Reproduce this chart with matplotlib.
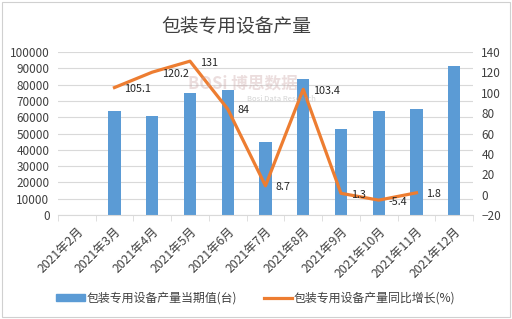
import matplotlib
matplotlib.use("Agg")
import matplotlib.pyplot as plt
import numpy as np
from matplotlib.patches import Rectangle, Patch
from matplotlib.lines import Line2D

plt.rcParams['font.family'] = ['Noto Sans CJK SC', 'DejaVu Sans']

categories = ['2021年2月', '2021年3月', '2021年4月', '2021年5月', '2021年6月', '2021年7月',
              '2021年8月', '2021年9月', '2021年10月', '2021年11月', '2021年12月']
production = [np.nan, 63500, 60500, 75000, 76500, 44500, 83500, 53000, 64000, 65000, 91500]
growth = [np.nan, 105.1, 120.2, 131, 84, 8.7, 103.4, 1.3, -5.4, 1.8, np.nan]
growth_labels = ['', '105.1', '120.2', '131', '84', '8.7', '103.4', '1.3', '-5.4', '1.8', '']

title = '包装专用设备产量'
bar_name = '包装专用设备产量当期值(台)'
line_name = '包装专用设备产量同比增长(%)'

bar_color = '#5B9BD5'
line_color = '#ED7D31'
text_color = '#404040'
grid_color = '#D9D9D9'

fig = plt.figure(figsize=(5.12, 3.19), dpi=100)
fig.patch.set_facecolor('white')
fig.add_artist(Rectangle((0.004, 0.006), 0.992, 0.988, transform=fig.transFigure,
                         fill=False, edgecolor='#D0D0D0', linewidth=0.8))

ax = fig.add_axes([0.113, 0.326, 0.811, 0.511])
ax2 = ax.twinx()

x = np.arange(len(categories))
ax.bar(x, production, width=0.32, color=bar_color, zorder=2)
ax.set_xlim(-0.5, len(categories) - 0.5)
ax.set_ylim(0, 100000)
ax.set_yticks(np.arange(0, 100001, 10000))
ax.yaxis.grid(True, color=grid_color, linewidth=0.8, zorder=0)
ax.set_axisbelow(True)

ax2.plot(x, growth, color=line_color, linewidth=2.3, zorder=3)
ax2.set_ylim(-20, 140)
ax2.set_yticks(np.arange(-20, 141, 20))
for xi, yi, lab in zip(x, growth, growth_labels):
    if lab:
        ax2.annotate(lab, (xi, yi), xytext=(7, -1), textcoords='offset points',
                     ha='left', va='center', fontsize=7.8, color='#262626')

for a in (ax, ax2):
    for s in a.spines.values():
        s.set_visible(False)
    a.tick_params(axis='y', length=0, labelsize=8.5, labelcolor=text_color)
ax.spines['bottom'].set_visible(True)
ax.spines['bottom'].set_color(grid_color)
ax.tick_params(axis='y', pad=6)
ax2.tick_params(axis='y', pad=6)

ax.set_xticks(x)
ax.set_xticklabels(categories, rotation=45, ha='right', va='top', rotation_mode='anchor',
                   fontsize=8.8, color=text_color)
ax.tick_params(axis='x', length=0, pad=7)
ax.set_xticks(np.arange(-0.5, len(categories), 1), minor=True)
ax.tick_params(axis='x', which='minor', length=4, color=grid_color)

fig.text(0.461, 0.915, title, ha='center', va='center', fontsize=13.5, color='#404040')

# watermark
fig.text(0.475, 0.738, 'BOSi 博思数据', ha='center', va='center', fontsize=12,
         color='#C8A0A0', alpha=0.35, fontweight='bold')
fig.text(0.55, 0.69, 'Bosi Data Research', ha='center', va='center', fontsize=5.5,
         color='#A0A0A0', alpha=0.45)

handles = [Patch(color=bar_color), Line2D([], [], color=line_color, linewidth=2.3)]
leg = fig.legend(handles, [bar_name, line_name], loc='center', bbox_to_anchor=(0.5, 0.066),
                 ncol=2, frameon=False, fontsize=8.6, handlelength=2.4, handleheight=0.5,
                 columnspacing=2.2, handletextpad=0.15)
for t in leg.get_texts():
    t.set_color(text_color)

fig.savefig('out.png', dpi=100)
